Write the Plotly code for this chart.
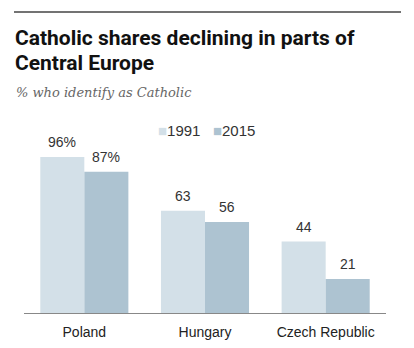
import plotly.graph_objects as go

categories = ["Poland", "Hungary", "Czech Republic"]
values_1991 = [96, 63, 44]
values_2015 = [87, 56, 21]
labels_1991 = ["96%", "63", "44"]
labels_2015 = ["87%", "56", "21"]
series_names = ["1991", "2015"]
colors = ["#d3e0e8", "#adc3d1"]

W, H = 414, 348
L, R, T, B = 24, 28, 145, 35
plot_h = H - T - B
plot_w = W - L - R

def px_x(x):
    return (x - L) / plot_w

def px_y(y):
    return (H - B - y) / plot_h

FONT = "Liberation Sans, Arial, sans-serif"
label_font = dict(family=FONT, size=14, color="#333333")

fig = go.Figure()
for name, vals, col in zip(series_names, [values_1991, values_2015], colors):
    fig.add_trace(go.Bar(
        x=categories, y=vals, name=name,
        marker=dict(color=col, line=dict(width=0)),
    ))

# bar value labels (offset to each bar within a group)
bar_px = 44
for offset, vals, labs in [(-bar_px / 2, values_1991, labels_1991), (bar_px / 2, values_2015, labels_2015)]:
    for c, v, t in zip(categories, vals, labs):
        fig.add_annotation(
            x=c, y=v, xref="x", yref="y", text=t, showarrow=False,
            xanchor="center", yanchor="bottom", xshift=offset, yshift=5,
            font=label_font,
        )

fig.update_layout(
    width=W, height=H,
    margin=dict(l=L, r=R, t=T, b=B, autoexpand=False),
    paper_bgcolor="white", plot_bgcolor="white",
    barmode="group", bargap=0.27, bargroupgap=0,
    showlegend=False,
    xaxis=dict(
        range=[-0.5, 2.5], showgrid=False, zeroline=False,
        showline=True, linecolor="#888888", linewidth=1,
        ticks="outside", ticklen=6, tickcolor="rgba(0,0,0,0)",
        tickfont=dict(family=FONT, size=14, color="#222222"),
        fixedrange=True, automargin=False,
    ),
    yaxis=dict(range=[0, plot_h / 1.625], visible=False, fixedrange=True, automargin=False),
    font=dict(family=FONT),
)

# legend
legend_text = "   ".join(
    f"<span style='color:{c}'>■</span>{n}" for n, c in zip(series_names, colors)
)
fig.add_annotation(
    text=legend_text, xref="paper", yref="paper",
    x=px_x(156), y=px_y(130), xanchor="left", yanchor="middle",
    showarrow=False, font=dict(family=FONT, size=15, color="#333333"),
)

title_lines = ["Catholic shares declining in parts of", "Central Europe"]
for line, yc in zip(title_lines, [38, 63]):
    fig.add_annotation(
        text=f"<b>{line}</b>",
        xref="paper", yref="paper", x=px_x(13), y=px_y(yc), xanchor="left", yanchor="middle",
        align="left", showarrow=False,
        font=dict(family="Roboto, Liberation Sans, sans-serif", size=21, color="#111111"),
    )
fig.add_annotation(
    text="<i>% who identify as Catholic</i>",
    xref="paper", yref="paper", x=px_x(14), y=px_y(92), xanchor="left", yanchor="middle",
    align="left", showarrow=False,
    font=dict(family="DejaVu Serif, Liberation Serif, serif", size=13, color="#666666"),
)
fig.add_shape(
    type="line", xref="paper", yref="paper",
    x0=px_x(14), x1=px_x(401), y0=px_y(12), y1=px_y(12),
    line=dict(color="#444444", width=1.5),
)

fig.write_html("out.html")
